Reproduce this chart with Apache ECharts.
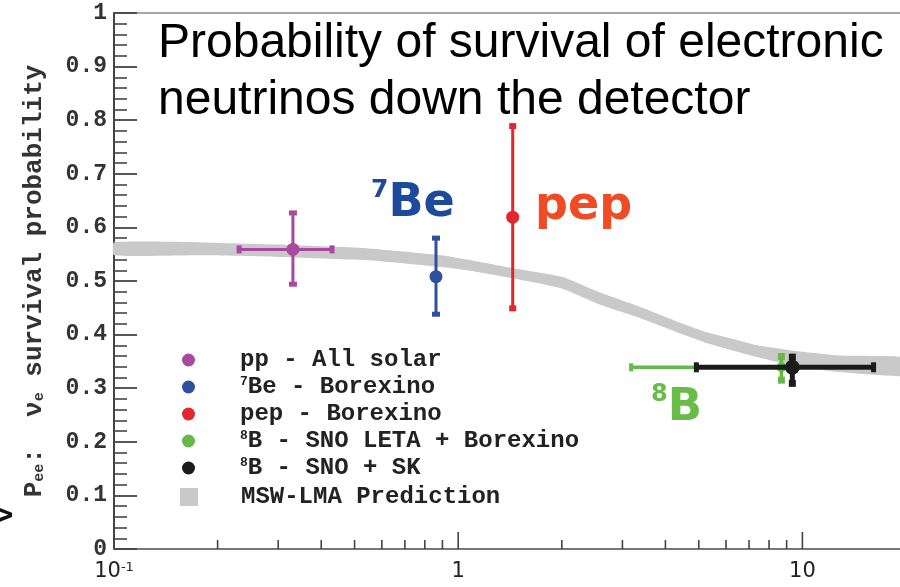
<!DOCTYPE html>
<html>
<head>
<meta charset="utf-8">
<script src="https://cdn.jsdelivr.net/npm/echarts@6/dist/echarts.min.js"></script>
<style>html,body{margin:0;padding:0;background:#fff;}#c{width:900px;height:587px;}</style>
</head>
<body>
<div id="c"></div>
<script>
// ---- data ----
const seriesNames = ['pp - All solar', '7Be - Borexino', 'pep - Borexino', '8B - SNO LETA + Borexino', '8B - SNO + SK'];
const energy   = [0.331, 0.862, 1.44, 8.69, 9.35];
const prob     = [0.559, 0.508, 0.619, 0.339, 0.339];
const energyLo = [0.231, null, null, 3.18, 4.92];
const energyHi = [0.430, null, null, 16.1, 16.1];
const probLo   = [0.494, 0.438, 0.449, 0.315, 0.309];
const probHi   = [0.627, 0.580, 0.789, 0.359, 0.358];

const bandName = 'MSW-LMA Prediction';
const bandX  = [0.1, 0.18, 0.3, 0.54, 0.89, 1.06, 1.44, 2.0, 2.6, 3.4, 4.3, 5.3, 6.3, 7.4, 9.2, 12.9, 20];
const bandHi = [0.572, 0.572, 0.568, 0.561, 0.548, 0.540, 0.524, 0.508, 0.478, 0.451, 0.425, 0.404, 0.392, 0.380, 0.371, 0.361, 0.357];
const bandLo = [0.548, 0.548, 0.545, 0.539, 0.526, 0.520, 0.505, 0.486, 0.455, 0.430, 0.405, 0.384, 0.370, 0.358, 0.343, 0.330, 0.323];

const xMajorTicks = [1, 10];
const xMinorTicks = [0.2, 0.3, 0.4, 0.5, 0.6, 0.7, 0.8, 0.9, 2, 3, 4, 5, 6, 7, 8, 9];
const xTickLabels = {0.1: '10{sup|-1}', 1: '1', 10: '10'};

// ---- styles ----
const colors = ['#a8489f', '#2f4f9f', '#e3262f', '#66b848', '#1b1b1b'];
const barStyle = [
  {lw: 3, capW: 8, capH: 5, hcapW: 5, hcapH: 8, r: 6.5},
  {lw: 3, capW: 8, capH: 5, hcapW: 5, hcapH: 8, r: 6.5},
  {lw: 3, capW: 7, capH: 6, hcapW: 5, hcapH: 8, r: 6.5},
  {lw: 3.5, capW: 7, capH: 7, hcapW: 4, hcapH: 8, r: 5},
  {lw: 5, capW: 7, capH: 7, hcapW: 5, hcapH: 10, r: 7.5}
];

function errRender(i) {
  const st = barStyle[i], col = colors[i];
  return function (params, api) {
    const c = api.coord([energy[i], prob[i]]);
    const t = api.coord([energy[i], probHi[i]]);
    const b = api.coord([energy[i], probLo[i]]);
    const ch = [];
    const ls = {stroke: col, lineWidth: st.lw};
    ch.push({type: 'line', shape: {x1: c[0], y1: t[1], x2: c[0], y2: b[1]}, style: ls});
    ch.push({type: 'rect', shape: {x: c[0] - st.capW / 2, y: t[1] - st.capH / 2, width: st.capW, height: st.capH}, style: {fill: col}});
    ch.push({type: 'rect', shape: {x: c[0] - st.capW / 2, y: b[1] - st.capH / 2, width: st.capW, height: st.capH}, style: {fill: col}});
    if (energyLo[i] != null) {
      const l = api.coord([energyLo[i], prob[i]]);
      const r = api.coord([energyHi[i], prob[i]]);
      ch.push({type: 'line', shape: {x1: l[0], y1: c[1], x2: r[0], y2: c[1]}, style: ls});
      ch.push({type: 'rect', shape: {x: l[0] - st.hcapW / 2, y: c[1] - st.hcapH / 2, width: st.hcapW, height: st.hcapH}, style: {fill: col}});
      ch.push({type: 'rect', shape: {x: r[0] - st.hcapW / 2, y: c[1] - st.hcapH / 2, width: st.hcapW, height: st.hcapH}, style: {fill: col}});
    }
    ch.push({type: 'circle', shape: {cx: c[0], cy: c[1], r: st.r}, style: {fill: col}});
    return {type: 'group', children: ch};
  };
}

function bandRender(params, api) {
  if (params.dataIndex !== 0) return null;
  const pts = [];
  for (let k = 0; k < bandX.length; k++) pts.push(api.coord([bandX[k], bandHi[k]]));
  for (let k = bandX.length - 1; k >= 0; k--) pts.push(api.coord([bandX[k], bandLo[k]]));
  return {type: 'polygon', shape: {points: pts, smooth: 0.15}, style: {fill: '#c9c9c9'}};
}

function tickRender(params, api) {
  const v = api.value(0);
  const p = api.coord([v, 0]);
  const len = xMajorTicks.indexOf(v) >= 0 ? 17 : 9;
  return {type: 'line', shape: {x1: p[0], y1: p[1], x2: p[0], y2: p[1] - len}, style: {stroke: '#444', lineWidth: 1.6}};
}

const monoFont = "'Liberation Mono', 'DejaVu Sans Mono', monospace";
const labelFont = "'DejaVu Sans', sans-serif";
const supName = n => n.replace(/^(\d)/, '{sup|$1}');

const series = [
  {
    name: bandName, type: 'custom', renderItem: bandRender,
    data: bandX.map((x, k) => [x, bandLo[k]]),
    itemStyle: {color: '#c9c9c9'}, silent: true, z: 1
  },
  {
    name: 'xticks', type: 'custom', renderItem: tickRender,
    data: xMajorTicks.concat(xMinorTicks).map(v => [v, 0]),
    silent: true, z: 5
  }
];
[3, 4, 0, 1, 2].forEach(i => {
  series.push({
    name: seriesNames[i], type: 'custom', renderItem: errRender(i),
    data: [[energy[i], prob[i]]], itemStyle: {color: colors[i]}, z: 3 + i
  });
});

const chart = echarts.init(document.getElementById('c'), null, {renderer: 'canvas'});
chart.setOption({
  animation: false,
  backgroundColor: '#fff',
  title: {
    text: 'Probability of survival of electronic\nneutrinos down the detector',
    left: 158, top: 15, padding: 0,
    textStyle: {fontFamily: "'Liberation Sans', Arial, sans-serif", fontWeight: 'normal', fontSize: 48, lineHeight: 57, color: '#000'}
  },
  grid: {left: 114, right: -6, top: 13, bottom: 38, show: true, borderColor: '#8a8a8a', borderWidth: 1.5, outerBoundsMode: 'none'},
  legend: [
    {
      data: seriesNames.map(n => ({name: n, icon: 'circle'})),
      orient: 'vertical', left: 182, top: 348, padding: 0, itemWidth: 13, itemHeight: 13, itemGap: 3,
      selectedMode: false,
      formatter: supName,
      textStyle: {
        fontFamily: monoFont, fontWeight: 'bold', fontSize: 24, lineHeight: 24, color: '#222', padding: [0, 0, 0, 40],
        rich: {sup: {fontFamily: monoFont, fontWeight: 'bold', fontSize: 13, lineHeight: 24, verticalAlign: 'top', color: '#222'}}
      }
    },
    {
      data: [{name: bandName, icon: 'rect'}],
      orient: 'vertical', left: 180, top: 485, padding: 0, itemWidth: 18, itemHeight: 18,
      selectedMode: false,
      textStyle: {fontFamily: monoFont, fontWeight: 'bold', fontSize: 24, lineHeight: 24, color: '#222', padding: [0, 0, 0, 38]}
    }
  ],
  xAxis: {
    type: 'log', logBase: 10, min: 0.1, max: 20,
    axisLine: {lineStyle: {color: '#777', width: 2}},
    axisTick: {show: false},
    splitLine: {show: false},
    minorTick: {show: false},
    axisLabel: {
      showMaxLabel: false, margin: 12,
      formatter: v => xTickLabels[v] || '',
      fontFamily: labelFont, fontSize: 21, color: '#222',
      rich: {sup: {fontFamily: labelFont, fontSize: 13, verticalAlign: 'top', lineHeight: 22, color: '#222'}}
    }
  },
  yAxis: {
    type: 'value', min: 0, max: 1, interval: 0.1,
    name: '{n|P}{s|ee}{n|:  ν}{s|e}{n| survival probability}',
    nameLocation: 'middle', nameGap: 67, nameRotate: 90,
    nameTextStyle: {
      rich: {
        n: {fontFamily: monoFont, fontWeight: 'bold', fontSize: 26, lineHeight: 30, color: '#333', verticalAlign: 'bottom'},
        s: {fontFamily: monoFont, fontWeight: 'bold', fontSize: 15, lineHeight: 24, color: '#333', verticalAlign: 'bottom'}
      }
    },
    axisLine: {show: true, lineStyle: {color: '#444', width: 2}},
    axisTick: {show: true, inside: true, length: 23, lineStyle: {color: '#444', width: 1.8}},
    minorTick: {show: true, splitNumber: 5, length: 13, lineStyle: {color: '#444', width: 1.6}},
    splitLine: {show: false},
    axisLabel: {margin: 7, fontFamily: monoFont, fontWeight: 'bold', fontSize: 23, color: '#333'}
  },
  graphic: [
    {type: 'text', left: 371, top: 178, style: {text: '{s|7}{b|Be}', rich: {
      s: {fontFamily: labelFont, fontWeight: 'bold', fontSize: 25, fill: '#1d4a9c', verticalAlign: 'top', lineHeight: 52},
      b: {fontFamily: labelFont, fontWeight: 'bold', fontSize: 46, fill: '#1d4a9c', lineHeight: 52}}}},
    {type: 'text', left: 535, top: 184, style: {text: 'pep', font: "bold 46px 'DejaVu Sans', sans-serif", fill: '#f04b24'}},
    {type: 'text', left: 651, top: 383, style: {text: '{s|8}{b|B}', rich: {
      s: {fontFamily: labelFont, fontWeight: 'bold', fontSize: 24, fill: '#6abb47', verticalAlign: 'top', lineHeight: 50},
      b: {fontFamily: labelFont, fontWeight: 'bold', fontSize: 45, fill: '#6abb47', lineHeight: 50}}}},
    {type: 'text', x: -5, y: 522, rotation: Math.PI / 2, style: {text: 'v', font: "bold 22px 'DejaVu Sans', sans-serif", fill: '#111'}}
  ],
  series: series
});
</script>
</body>
</html>
